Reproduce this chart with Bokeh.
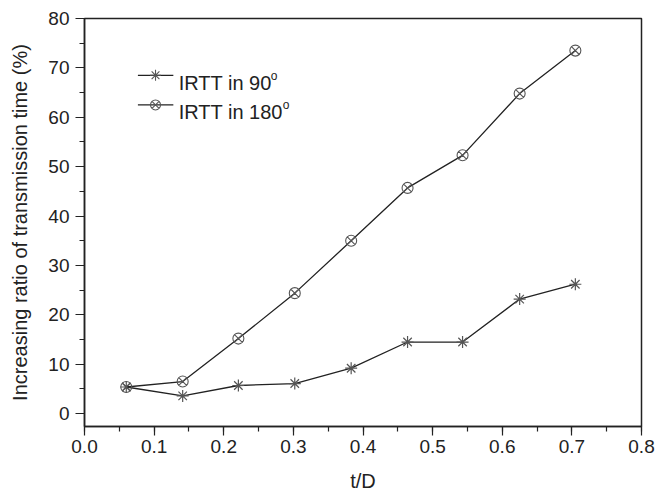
from bokeh.plotting import figure
from bokeh.models import Range1d, SingleIntervalTicker, NumeralTickFormatter
from bokeh.core.properties import value
from bokeh.embed import file_html
from bokeh.resources import INLINE

# Data
t_over_d = [0.060, 0.141, 0.221, 0.302, 0.383, 0.464, 0.543, 0.625, 0.705]
irtt_90 = [5.4, 3.6, 5.7, 6.1, 9.2, 14.5, 14.5, 23.2, 26.2]
irtt_180 = [5.4, 6.5, 15.2, 24.4, 35.0, 45.7, 52.3, 64.8, 73.5]
legend_labels = ["IRTT in 90", "IRTT in 180"]

FONT = "Liberation Sans"
LINE = "#222222"
MARK = "#555555"

p = figure(width=664, height=498, output_backend="svg", toolbar_location=None,
           x_range=Range1d(0, 0.8), y_range=Range1d(-2.6, 80),
           min_border_left=84, min_border_right=23, min_border_top=18, min_border_bottom=72)

p.background_fill_color = "white"
p.border_fill_color = "white"
p.outline_line_color = "#222222"
p.outline_line_width = 1.5
p.xgrid.visible = False
p.ygrid.visible = False

p.xaxis.ticker = SingleIntervalTicker(interval=0.1, num_minor_ticks=2)
p.yaxis.ticker = SingleIntervalTicker(interval=10, num_minor_ticks=2)
p.xaxis.formatter = NumeralTickFormatter(format="0.0")

for ax in (p.xaxis, p.yaxis):
    ax.axis_line_color = "#222222"
    ax.axis_line_width = 1.5
    ax.major_tick_line_color = "#222222"
    ax.minor_tick_line_color = "#222222"
    ax.major_tick_line_width = 1.2
    ax.minor_tick_line_width = 1.2
    ax.major_tick_in = 0
    ax.major_tick_out = 9
    ax.minor_tick_in = 0
    ax.minor_tick_out = 5
    ax.major_label_text_font = FONT
    ax.major_label_text_font_size = "19px"
    ax.major_label_text_color = "#222222"
    ax.axis_label_text_font = FONT
    ax.axis_label_text_font_size = "20px"
    ax.axis_label_text_font_style = "normal"
    ax.axis_label_text_color = "#222222"

p.xaxis.axis_label = "t/D"
p.yaxis.axis_label = "Increasing ratio of transmission time (%)"
p.xaxis.major_label_standoff = 4
p.xaxis.axis_label_standoff = 14
p.yaxis.major_label_standoff = 6
p.yaxis.axis_label_standoff = 14

# Series
p.line(t_over_d, irtt_90, line_color=LINE, line_width=1.3)
p.scatter(t_over_d, irtt_90, marker="asterisk", size=12, line_color=MARK, line_width=1.2)
p.line(t_over_d, irtt_180, line_color=LINE, line_width=1.3)
p.scatter(t_over_d, irtt_180, marker="circle_x", size=11, line_color=MARK,
          fill_color=None, line_width=1.1)

# Manual legend
leg_x0, leg_x1, leg_xm, leg_xt = 0.0767, 0.1276, 0.102, 0.1353
rows_y = [68.5, 62.5]
base_y = [67.0, 61.0]
markers = ["asterisk", "circle_x"]
sup_off = [92, 104]
for i in range(2):
    p.segment(x0=[leg_x0], y0=[rows_y[i]], x1=[leg_x1], y1=[rows_y[i]],
              line_color=LINE, line_width=1.3)
    p.scatter([leg_xm], [rows_y[i]], marker=markers[i], size=11 if i == 0 else 10,
              line_color=MARK, fill_color=None, line_width=1.1)
    p.text([leg_xt], [base_y[i]], text=[legend_labels[i]], text_font=value(FONT),
           text_font_size="20px", text_color="#222222", text_baseline="alphabetic",
           text_align="left")
    p.text([leg_xt], [base_y[i]], text=["o"], text_font=value(FONT),
           text_font_size="12px", text_color="#222222", text_baseline="alphabetic",
           text_align="left", x_offset=sup_off[i], y_offset=-7)

open("out.html", "w").write(file_html(p, INLINE))
